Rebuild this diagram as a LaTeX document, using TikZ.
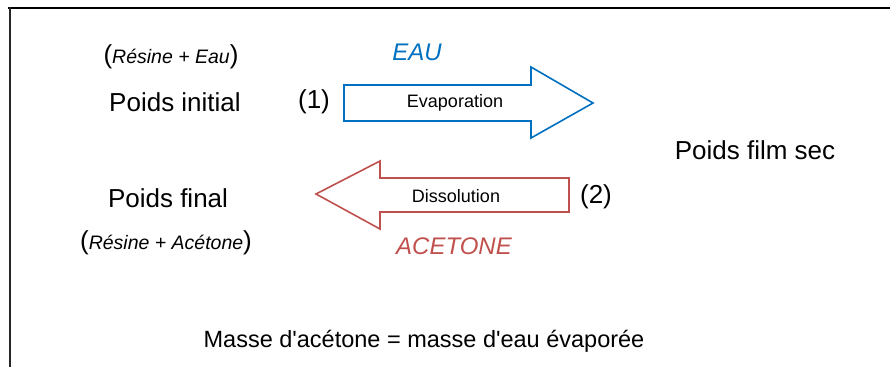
\documentclass[tikz,border=0pt]{standalone}
\usepackage{fontspec}
\setmainfont{Liberation Sans}
\definecolor{eaublue}{RGB}{0,112,192}
\definecolor{acered}{RGB}{192,80,77}
\begin{document}
\begin{tikzpicture}[x=1pt,y=-1pt,
  big/.style={inner sep=0pt,font=\fontsize{26}{30}\selectfont},
  mid/.style={inner sep=0pt,font=\fontsize{18}{22}\selectfont},
  itl/.style={inner sep=0pt,font=\fontsize{24}{28}\selectfont\itshape},
  arrowshape/.style={line width=1.6pt,line join=miter,fill=white}]
\useasboundingbox (0,0) rectangle (890,367);
% frame
\coordinate (tl) at (8.5,8);
\coordinate (tr) at (890,8);
\coordinate (bl) at (9.5,367);
\draw[line width=2.8pt] (7.5,8) -- (tr);
\draw[line width=2pt,black!85] (9.5,7) -- (bl);
% left texts
\node[big] (rese) at (171,57) {(\fontsize{19.5}{22}\selectfont\itshape Résine + Eau\fontsize{26}{30}\selectfont\upshape)};
\node[big] (pinit) at (175,102) {Poids initial};
\node[big] (pfinal) at (168,198) {Poids final};
\node[big] (resa) at (166,243) {(\fontsize{19.5}{22}\selectfont\itshape Résine + Acétone\fontsize{26}{30}\selectfont\upshape)};
% numbers
\node[big] (n1) at (314,102) {(1)};
\node[big] (n2) at (596,197) {(2)};
% labels
\node[itl,text=eaublue] (eau) at (417,52) {EAU};
\node[itl,text=acered] (ace) at (454,246) {ACETONE};
% arrows
\draw[arrowshape,draw=eaublue] (344,85) -- (531,85) -- (531,67) -- (593,103) -- (531,138) -- (531,121) -- (344,121) -- cycle;
\node[mid] (evap) at (455,103) {Evaporation};
\draw[arrowshape,draw=acered] (569,178) -- (380,178) -- (380,161) -- (316,194) -- (380,229) -- (380,212) -- (569,212) -- cycle;
\node[mid] (diss) at (456,196) {Dissolution};
% right text
\node[big] (pfs) at (755,150) {Poids film sec};
% bottom text
\node[inner sep=0pt,font=\fontsize{23.5}{28}\selectfont] (masse) at (424,341) {Masse d\textquotesingle acétone = masse d\textquotesingle eau évaporée};
\end{tikzpicture}
\end{document}
